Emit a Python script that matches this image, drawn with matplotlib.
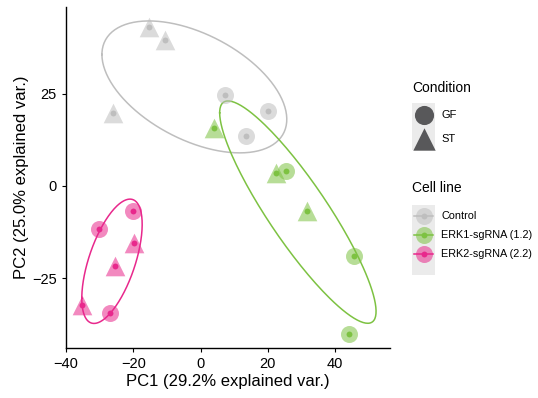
import numpy as np
import matplotlib
matplotlib.use('Agg')
import matplotlib.pyplot as plt
import matplotlib.patches as patches

plt.rcParams['font.family'] = ['Liberation Sans', 'DejaVu Sans']

# PCA scores
ctrl_x = [-15.4, -10.7, -26.1, 7.4, 20.1, 13.6]
ctrl_y = [43.2, 39.7, 19.8, 24.7, 20.4, 13.6]
ctrl_cond = ['ST', 'ST', 'ST', 'GF', 'GF', 'GF']

erk1_x = [4.1, 22.5, 25.5, 31.7, 45.6, 44.1]
erk1_y = [15.8, 3.5, 4.1, -6.8, -19.0, -40.2]
erk1_cond = ['ST', 'ST', 'GF', 'ST', 'GF', 'GF']

erk2_x = [-20.1, -30.2, -19.9, -25.5, -35.3, -27.0]
erk2_y = [-6.8, -11.8, -15.5, -21.8, -32.3, -34.5]
erk2_cond = ['GF', 'GF', 'ST', 'ST', 'ST', 'GF']

cell_lines = ['Control', 'ERK1-sgRNA (1.2)', 'ERK2-sgRNA (2.2)']
colours = ['#BEBEBE', '#7DC242', '#E8288C']
conditions = ['GF', 'ST']
shapes = {'GF': 'o', 'ST': '^'}

groups = [(ctrl_x, ctrl_y, ctrl_cond), (erk1_x, erk1_y, erk1_cond), (erk2_x, erk2_y, erk2_cond)]


def ellipse(x, y, prob=0.68, n=200):
    # same construction as ggbiplot (normal data ellipse)
    pts = np.column_stack([x, y])
    mu = pts.mean(axis=0)
    cov = np.cov(pts, rowvar=False)
    R = np.linalg.cholesky(cov).T
    ed = np.sqrt(-2 * np.log(1 - prob))
    t = np.linspace(-np.pi, np.pi, n)
    circ = np.column_stack([np.cos(t), np.sin(t)])
    e = circ @ R * ed + mu
    return e[:, 0], e[:, 1]


fig = plt.figure(figsize=(5.38, 3.98), dpi=100)
ax = fig.add_axes([66/538, 1-348/398, (390-66)/538, (348-7)/398])

for (x, y, cond), col in zip(groups, colours):
    ex, ey = ellipse(x, y)
    ax.plot(ex, ey, color=col, lw=1.1, zorder=2)
    for c in conditions:
        xs = [a for a, k in zip(x, cond) if k == c]
        ys = [b for b, k in zip(y, cond) if k == c]
        s = 150 if c == 'GF' else 200
        ax.scatter(xs, ys, s=s, marker=shapes[c], color=col, alpha=0.55,
                   linewidths=0, zorder=3)
        ax.scatter(xs, ys, s=18, marker='o', color=col, linewidths=0, zorder=4)

ax.set_xlim(-40, 56.3)
ax.set_ylim(-44, 48.6)
ax.set_xticks([-40, -20, 0, 20, 40])
ax.set_yticks([-25, 0, 25])
for s in ['top', 'right']:
    ax.spines[s].set_visible(False)
for s in ['left', 'bottom']:
    ax.spines[s].set_linewidth(1.0)
ax.tick_params(labelsize=10.5, length=3, width=0.8, colors='black')
ax.set_xlabel('PC1 (29.2% explained var.)', fontsize=12, labelpad=2)
ax.set_ylabel('PC2 (25.0% explained var.)', fontsize=12, labelpad=2)

# legend drawn in pixel coordinates
lg = fig.add_axes([0, 0, 1, 1])
lg.set_xlim(0, 538)
lg.set_ylim(398, 0)
lg.axis('off')

lg.text(412, 88, 'Condition', fontsize=10, va='center', ha='left')
lg.add_patch(patches.Rectangle((412, 103), 23, 47, color='#EBEBEB', lw=0))
for i, c in enumerate(conditions):
    yy = 115 + i * 24
    lg.scatter([423.5], [yy], s=190 if c == 'GF' else 260, marker=shapes[c],
               color='#58585A', linewidths=0)
    lg.text(441, yy, c, fontsize=8, va='center', ha='left')

lg.text(412, 188, 'Cell line', fontsize=10, va='center', ha='left')
lg.add_patch(patches.Rectangle((412, 205), 23, 70, color='#EBEBEB', lw=0))
for i, (name, col) in enumerate(zip(cell_lines, colours)):
    yy = 216 + i * 19
    lg.plot([414, 433], [yy, yy], color=col, lw=1.1)
    lg.scatter([423.5], [yy], s=150, marker='o', color=col, alpha=0.55, linewidths=0)
    lg.scatter([423.5], [yy], s=18, marker='o', color=col, linewidths=0)
    lg.text(441, yy, name, fontsize=7.8, va='center', ha='left')

fig.savefig('out.png', dpi=100)
